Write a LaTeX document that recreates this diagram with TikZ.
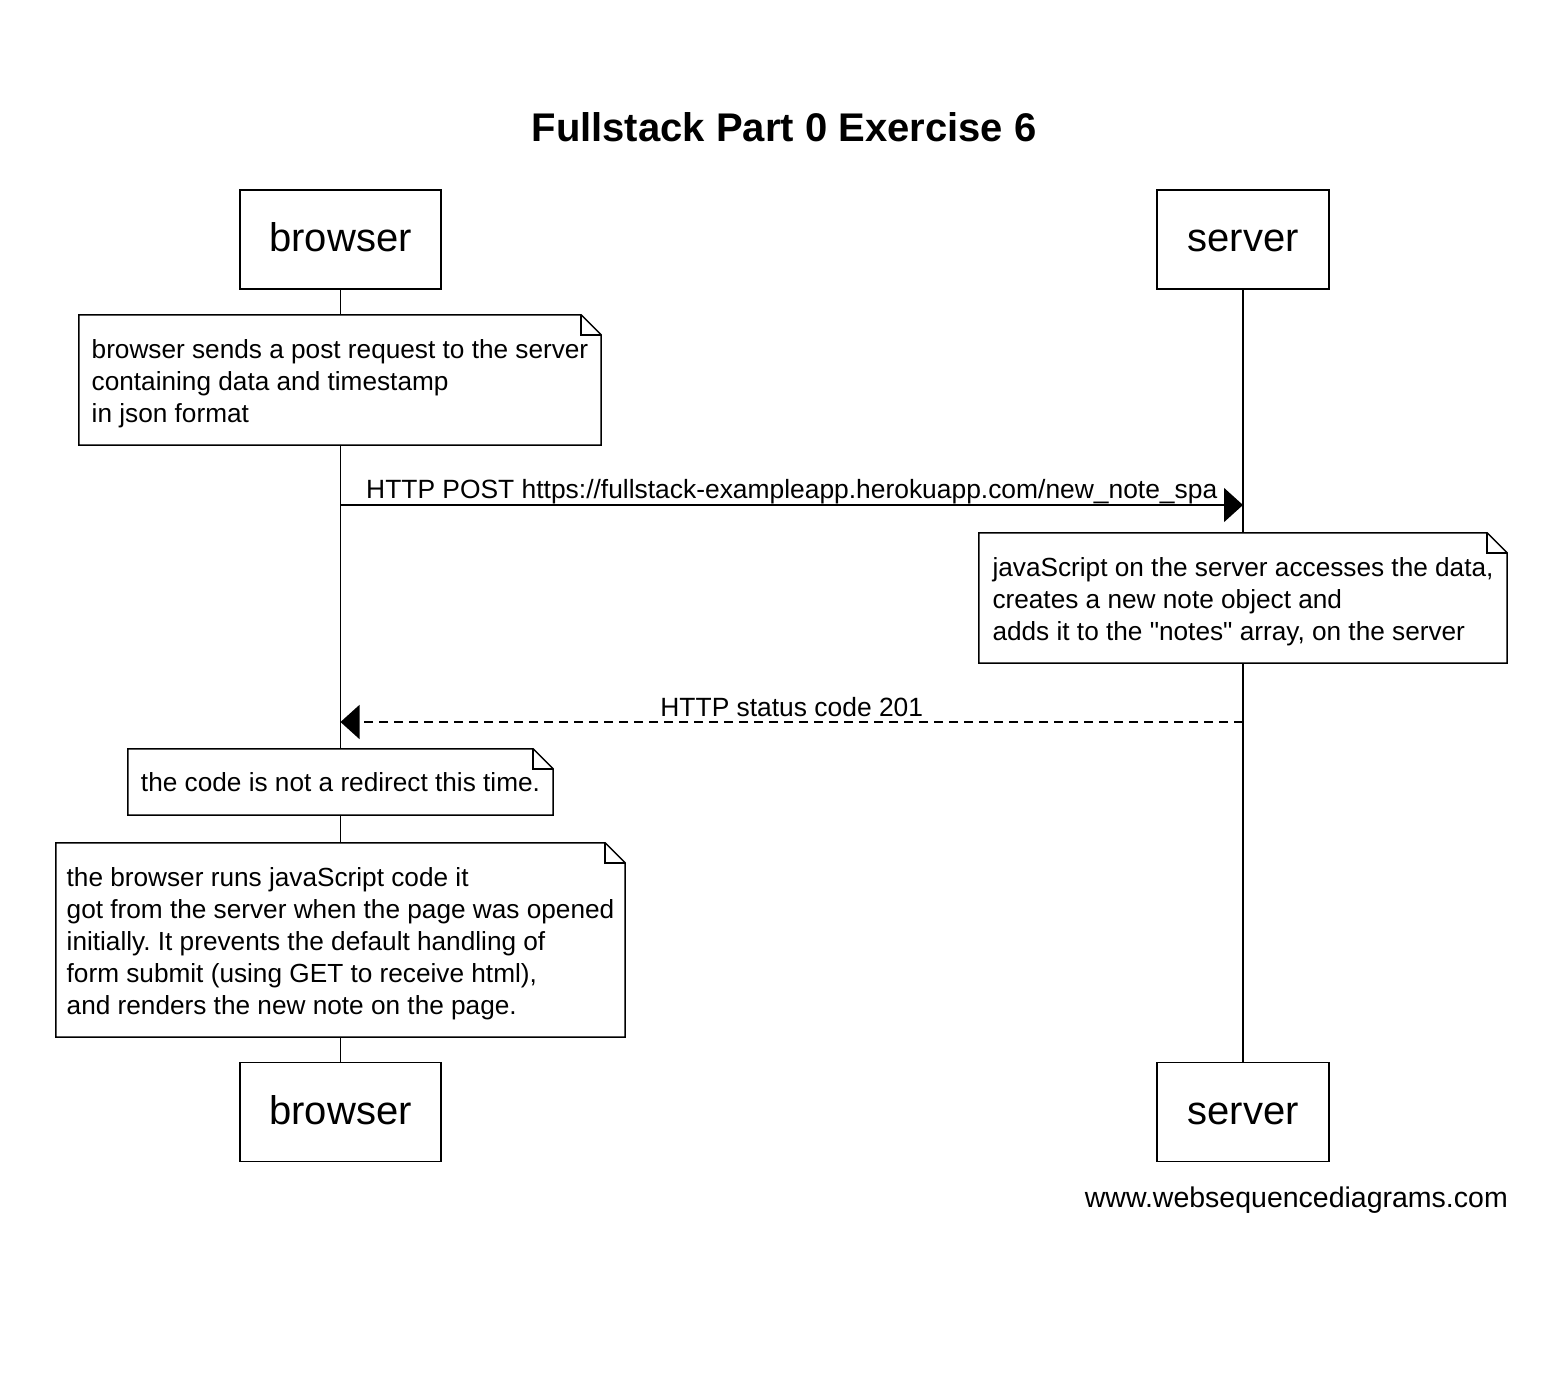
\documentclass[tikz,border=0pt]{standalone}
\usepackage{fontspec}
\setmainfont{Liberation Sans}[Ligatures=TeXOff]
\usetikzlibrary{arrows.meta,calc}
\frenchspacing

\tikzset{
  actor/.style={draw,line width=1.5pt,minimum height=99pt,inner sep=0pt,text height=24pt,text depth=0pt,font=\fontsize{40}{48}\selectfont},
  note/.style={fill=white,inner xsep=10pt,inner ysep=0pt,align=left,font=\fontsize{26.2}{32}\selectfont},
  msg/.style={line width=1.5pt,-{Triangle[length=19pt,width=34pt]}},
  lbl/.style={font=\fontsize{26.4}{32}\selectfont,anchor=base,inner sep=0pt},
}
\newcommand{\notetop}{\rule{0pt}{26pt}}
\newcommand{\dogear}[1]{%
  \draw[line width=1.5pt] (#1.south west) -- (#1.north west) -- ($(#1.north east)+(-20,0)$)
    -- ($(#1.north east)+(0,20)$) -- (#1.south east) -- cycle;
  \draw[line width=1.5pt] ($(#1.north east)+(-20,0)$) |- ($(#1.north east)+(0,20)$);
}

\begin{document}
\begin{tikzpicture}[x=1pt,y=-1pt]
  \useasboundingbox (0,0) rectangle (1558,1396);
  \node[font=\fontsize{40}{48}\selectfont\bfseries,anchor=base] (title) at (784,142) {Fullstack Part 0 Exercise 6};
  \node[actor,minimum width=201pt] (btop) at (340.5,239.5) {browser};
  \node[actor,minimum width=172pt] (stop) at (1243,239.5) {server};
  \node[actor,minimum width=201pt] (bbot) at (340.5,1112) {browser};
  \node[actor,minimum width=172pt] (sbot) at (1243,1112) {server};
  \draw[line width=1.5pt] (btop) -- (bbot);
  \draw[line width=1.5pt] (stop) -- (sbot);

  \node[note,minimum width=522pt,minimum height=130pt] (n1) at (340,380)
    {\notetop browser sends a post request to the server\\containing data and timestamp\\in json format};
  \dogear{n1}
  \draw[msg] (btop |- 0,505) -- (stop |- 0,505)
    node[lbl,midway,yshift=7pt] {HTTP POST https://fullstack-exampleapp.herokuapp.com/new\_note\_spa};
  \node[note,minimum width=528pt,minimum height=130pt] (n2) at (1243,598)
    {\notetop javaScript on the server accesses the data,\\creates a new note object and\\adds it to the "notes" array, on the server};
  \dogear{n2}
  \draw[msg,dash pattern=on 9pt off 6pt] (stop |- 0,722) -- (btop |- 0,722)
    node[lbl,midway,yshift=6pt] {HTTP status code 201};
  \node[note,minimum width=425pt,minimum height=66pt] (n3) at (340.5,782)
    {the code is not a redirect this time.};
  \dogear{n3}
  \node[note,minimum width=569pt,minimum height=194pt] (n4) at (340.5,940)
    {\notetop the browser runs javaScript code it\\got from the server when the page was opened\\initially. It prevents the default handling of\\form submit (using GET to receive html),\\and renders the new note on the page.};
  \dogear{n4}

  \node[font=\fontsize{28.5}{34}\selectfont,anchor=base east,inner sep=0pt] (site) at (1508,1207) {www.websequencediagrams.com};
\end{tikzpicture}
\end{document}
